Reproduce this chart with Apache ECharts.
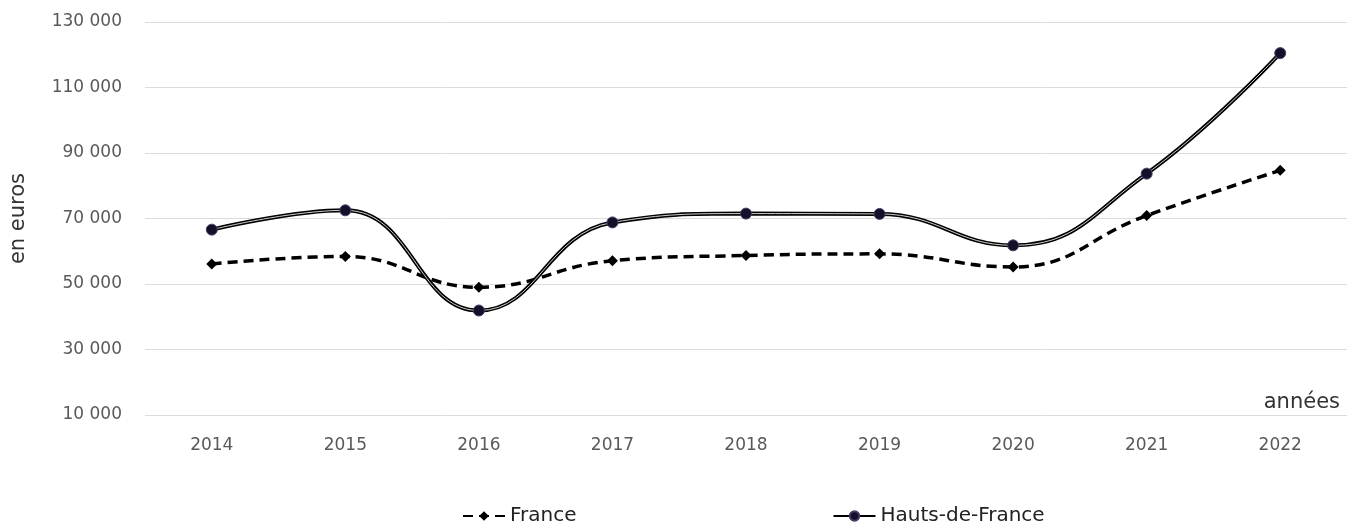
<!DOCTYPE html>
<html lang="fr">
<head>
    <meta charset="utf-8">
    <title>France / Hauts-de-France</title>
    <script src="https://cdn.jsdelivr.net/npm/echarts@6/dist/echarts.min.js"></script>
    <style>
        html, body { margin: 0; padding: 0; background: #fff; }
        #main { width: 1347px; height: 525px; }
    </style>
</head>
<body>
    <div id="main"></div>
    <script type="text/javascript">
    // données
    var annees = ['2014', '2015', '2016', '2017', '2018', '2019', '2020', '2021', '2022'];
    var france = [56100, 58400, 49000, 57100, 58700, 59200, 55200, 70900, 84700];
    var hautsDeFrance = [66600, 72500, 41900, 68800, 71500, 71400, 61800, 83700, 120500];
    var yTicks = [10000, 30000, 50000, 70000, 90000, 110000, 130000];

    var police = '"DejaVu Sans", "Noto Sans", sans-serif';

    function fmt(v) {
        return String(v).replace(/\B(?=(\d{3})+(?!\d))/g, ' ');
    }

    var myChart = echarts.init(document.getElementById('main'));

    myChart.setOption({
        animation: false,
        textStyle: { fontFamily: police },
        title: {
            text: 'années',
            right: 2,
            top: 387,
            textStyle: { fontSize: 21, fontWeight: 'normal', color: '#333', fontFamily: police }
        },
        legend: {
            data: ['France', 'Hauts-de-France'],
            left: 457,
            top: 501,
            itemWidth: 42,
            itemHeight: 12,
            itemGap: 256,
            textStyle: { fontSize: 20, color: '#222', fontFamily: police }
        },
        grid: { left: 144, right: 0, top: 22, bottom: 110 },
        xAxis: {
            type: 'category',
            data: annees,
            boundaryGap: true,
            axisLine: { show: false },
            axisTick: { show: false },
            axisLabel: { fontSize: 17, color: '#595959', margin: 22 }
        },
        yAxis: {
            type: 'value',
            min: yTicks[0],
            max: yTicks[yTicks.length - 1],
            interval: yTicks[1] - yTicks[0],
            name: 'en euros',
            nameLocation: 'middle',
            nameGap: 116,
            nameRotate: 90,
            nameTextStyle: { fontSize: 21, color: '#333' },
            axisLine: { show: false },
            axisTick: { show: false },
            axisLabel: { fontSize: 17, color: '#595959', margin: 23, formatter: fmt },
            splitLine: { lineStyle: { color: '#dcdcdc', width: 1 } }
        },
        series: [{
            name: 'France',
            type: 'line',
            data: france,
            smooth: 0.45,
            symbol: 'diamond',
            symbolSize: 11,
            itemStyle: { color: '#000' },
            lineStyle: { color: '#000', width: 3.5, type: [10, 6] },
            z: 3
        }, {
            name: 'Hauts-de-France',
            type: 'line',
            data: hautsDeFrance,
            smooth: 0.45,
            symbol: 'circle',
            symbolSize: 11,
            itemStyle: { color: '#15102a', borderColor: '#4a3a6a', borderWidth: 1 },
            lineStyle: { color: '#000', width: 4 },
            z: 4
        }, {
            // filet clair au centre du trait double
            name: 'Hauts-de-France (filet)',
            type: 'line',
            data: hautsDeFrance,
            smooth: 0.45,
            symbol: 'none',
            silent: true,
            lineStyle: { color: '#cfcfcf', width: 1 },
            z: 4
        }]
    });
    </script>
</body>
</html>
